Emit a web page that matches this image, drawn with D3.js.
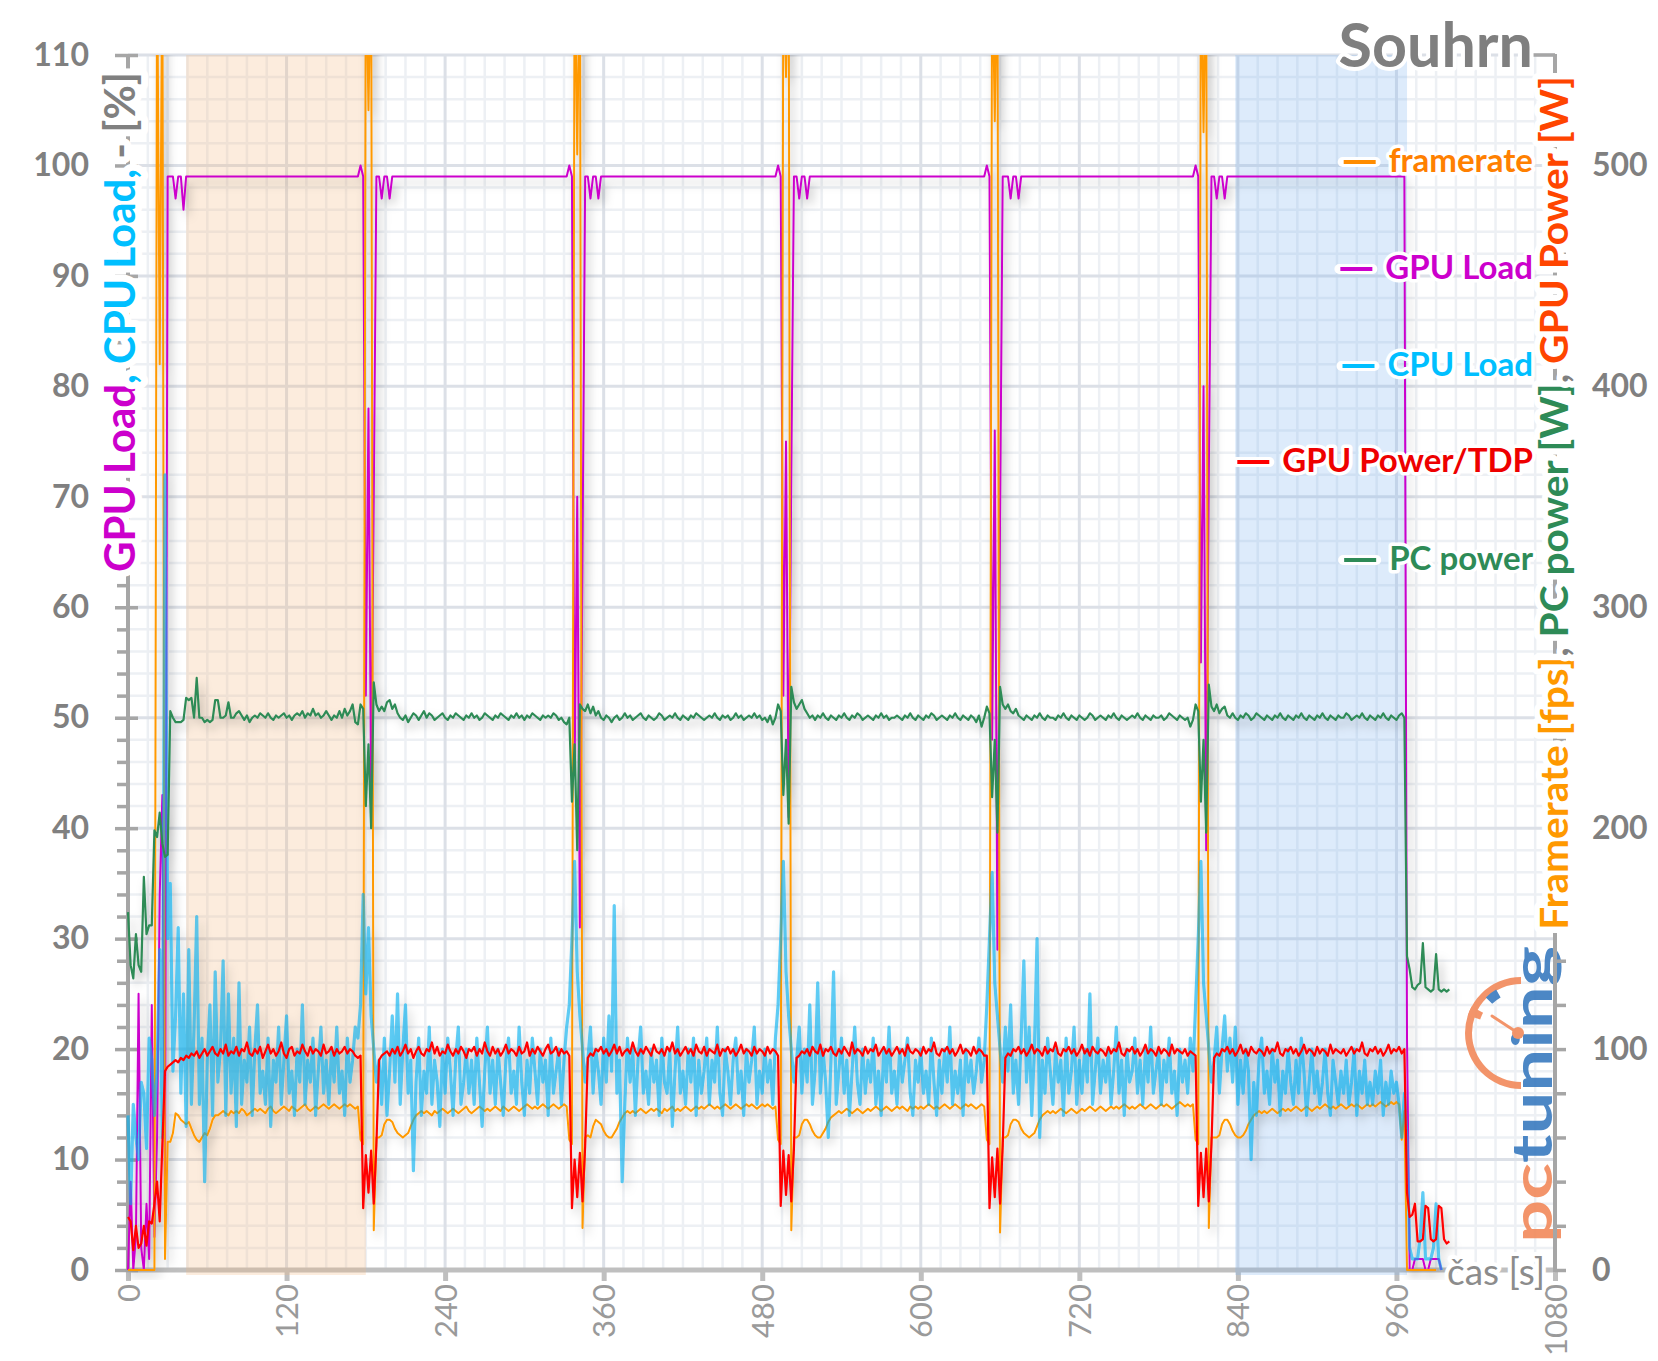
<!DOCTYPE html>
<html><head><meta charset="utf-8">
<script src="https://cdn.jsdelivr.net/npm/d3@7"></script>
<style>
html,body{margin:0;padding:0;background:#fff;}
svg{display:block;font-family:Lato,"Open Sans",sans-serif;}
</style></head>
<body>
<svg id="chart" width="1658" height="1361"></svg>
<script>
// ---------------- DATA (one sample every 2 s, rows of 10 = 20 s) ----------------
const sampleStep = 2;

const framerate = [ // fps
0,0,0,0,0,0,0,0,0,0,
0,600,410,600,5,58,58,62,71,70,
68,67,66,67,64,61,59,58,60,62,
61,64,68,70,70,71,72,71,70,72,
71,72,71,73,72,70,71,72,73,72,
73,72,71,73,74,72,71,72,73,74,
73,72,74,73,72,73,74,75,73,72,
73,74,73,74,75,74,73,74,75,74,
73,74,75,74,75,74,73,74,59,57,
600,525,600,18,60,60,61,66,68,68,
67,64,62,61,60,61,62,65,68,70,
71,72,71,72,71,70,72,71,72,73,
72,71,72,73,72,71,72,73,74,72,
71,72,73,74,73,72,73,72,73,74,
73,72,74,73,72,73,74,73,72,73,
74,75,74,73,74,73,74,75,74,73,
74,75,74,73,74,75,74,59,57,600,
505,600,19,60,61,60,65,68,67,66,
63,61,60,60,62,64,67,69,71,72,
71,72,71,72,73,72,71,72,73,72,
73,72,71,73,72,73,74,72,73,72,
73,74,73,72,73,74,73,74,73,74,
75,74,73,74,73,74,75,74,73,74,
75,74,73,74,75,74,75,74,73,74,
75,74,75,74,73,74,59,57,600,540,
600,18,60,60,61,66,68,68,66,63,
61,60,60,62,64,67,69,70,71,72,
71,72,73,72,71,72,73,72,71,72,
73,72,73,74,73,72,73,74,73,72,
73,74,73,74,73,72,74,73,74,73,
74,73,74,75,74,73,74,73,74,75,
74,73,74,75,74,73,74,75,74,75,
74,73,74,75,74,59,57,600,520,600,
17,60,60,61,66,68,68,67,64,62,
61,60,61,62,65,68,70,71,72,71,
72,71,72,73,72,71,72,73,72,71,
72,73,72,73,74,73,72,73,74,73,
72,73,74,73,74,73,74,75,74,73,
74,73,74,75,74,73,74,75,74,73,
74,75,74,75,74,73,74,75,76,75,
74,75,74,75,59,57,600,515,600,19,
60,60,60,61,66,68,68,66,63,61,
60,60,61,63,66,68,70,71,72,71,
72,71,72,73,72,71,72,73,72,73,
72,73,74,73,72,73,74,73,72,73,
74,73,74,75,74,73,74,73,74,75,
74,73,74,75,74,75,74,73,74,75,
74,75,74,75,76,75,74,75,76,75,
76,75,59,72,0,0,0,0,0,0,
0,0,0,0,0,0];

const gpuLoad = [ // %
0,8,0,3,25,2,0,6,1,24,
3,12,34,43,6,99,99,99,97,99,
99,96,99,99,99,99,99,99,99,99,
99,99,99,99,99,99,99,99,99,99,
99,99,99,99,99,99,99,99,99,99,
99,99,99,99,99,99,99,99,99,99,
99,99,99,99,99,99,99,99,99,99,
99,99,99,99,99,99,99,99,99,99,
99,99,99,99,99,99,99,99,100,99,
52,78,43,70,99,99,97,99,99,97,
99,99,99,99,99,99,99,99,99,99,
99,99,99,99,99,99,99,99,99,99,
99,99,99,99,99,99,99,99,99,99,
99,99,99,99,99,99,99,99,99,99,
99,99,99,99,99,99,99,99,99,99,
99,99,99,99,99,99,99,99,99,99,
99,99,99,99,99,99,99,100,99,45,
70,31,65,99,99,97,99,99,97,99,
99,99,99,99,99,99,99,99,99,99,
99,99,99,99,99,99,99,99,99,99,
99,99,99,99,99,99,99,99,99,99,
99,99,99,99,99,99,99,99,99,99,
99,99,99,99,99,99,99,99,99,99,
99,99,99,99,99,99,99,99,99,99,
99,99,99,99,99,99,100,99,52,75,
41,72,99,99,97,99,99,97,99,99,
99,99,99,99,99,99,99,99,99,99,
99,99,99,99,99,99,99,99,99,99,
99,99,99,99,99,99,99,99,99,99,
99,99,99,99,99,99,99,99,99,99,
99,99,99,99,99,99,99,99,99,99,
99,99,99,99,99,99,99,99,99,99,
99,99,99,99,99,100,99,48,76,29,
68,99,99,99,97,99,99,97,99,99,
99,99,99,99,99,99,99,99,99,99,
99,99,99,99,99,99,99,99,99,99,
99,99,99,99,99,99,99,99,99,99,
99,99,99,99,99,99,99,99,99,99,
99,99,99,99,99,99,99,99,99,99,
99,99,99,99,99,99,99,99,99,99,
99,99,99,99,100,99,55,80,38,72,
99,99,97,99,99,97,99,99,99,99,
99,99,99,99,99,99,99,99,99,99,
99,99,99,99,99,99,99,99,99,99,
99,99,99,99,99,99,99,99,99,99,
99,99,99,99,99,99,99,99,99,99,
99,99,99,99,99,99,99,99,99,99,
99,99,99,99,99,99,99,99,99,99,
99,99,99,99,21,0,0,1,1,1,
1,0,0,1,1,1,1,0];

const cpuLoad = [ // %
14,6,15,12,10,17,16,11,21,19,
14,18,29,12,72,30,35,18,23,31,
16,25,13,29,15,22,32,15,21,8,
19,24,14,27,17,20,28,14,25,16,
21,13,26,15,19,17,22,14,20,24,
16,18,15,21,13,19,17,22,15,19,
23,16,18,14,20,17,24,15,19,17,
21,14,18,22,16,19,15,20,17,22,
16,18,14,21,17,19,22,21,24,34,
25,31,23,20,17,19,15,21,14,18,
23,17,25,15,20,24,16,19,9,17,
21,14,18,16,22,15,19,17,13,20,
16,21,18,14,19,22,15,17,20,16,
19,15,21,17,13,18,22,16,19,15,
20,17,14,19,21,16,18,15,22,17,
14,19,16,21,18,15,20,17,19,14,
21,16,18,20,15,19,22,24,30,37,
27,23,20,17,19,22,16,20,18,15,
21,17,23,18,33,16,19,8,15,21,
17,20,14,19,22,16,18,15,20,17,
19,14,21,17,16,20,13,18,22,16,
18,15,20,17,21,14,19,16,18,21,
15,19,17,22,16,14,20,18,15,19,
21,16,18,14,20,17,19,22,15,18,
16,20,17,19,15,21,24,30,37,27,
23,20,17,19,22,16,20,17,24,15,
18,26,16,20,17,12,19,27,15,18,
21,16,19,14,18,22,17,15,20,16,
19,17,21,15,18,14,20,17,22,16,
18,15,20,17,19,21,16,14,19,17,
20,16,18,15,21,17,14,19,16,20,
17,22,15,18,16,19,14,20,17,19,
16,18,21,17,19,24,30,36,26,23,
20,17,22,18,24,16,19,15,21,28,
17,22,14,20,30,12,19,16,21,18,
15,20,17,19,14,21,16,18,22,15,
19,16,20,17,25,15,18,21,16,19,
17,20,15,18,22,16,19,14,20,17,
18,21,16,19,15,20,17,22,16,18,
20,15,19,17,21,16,18,14,20,17,
19,16,21,18,24,30,37,26,23,20,
17,19,22,16,20,23,18,21,17,22,
15,19,16,20,18,10,17,14,19,21,
16,18,15,20,17,19,14,18,16,20,
17,15,19,16,21,18,14,17,20,16,
18,15,17,20,16,14,19,17,15,18,
16,19,15,17,20,14,18,16,19,15,
17,15,18,16,19,14,17,15,18,16,
17,15,12,16,12,2,1,1,1,3,
7,1,1,1,2,6,1,0];

const gpuPower = [ // W
24,22,9,20,10,12,20,11,22,21,
30,40,22,57,90,92,93,94,95,94,
96,95,97,96,98,97,99,96,98,100,
97,99,101,98,97,100,98,102,97,99,
98,101,97,100,99,103,98,97,100,98,
101,96,99,102,98,100,97,99,103,98,
96,100,101,97,99,98,102,99,97,101,
98,100,99,97,102,98,99,101,97,100,
98,99,101,98,100,99,97,96,97,28,
52,35,54,30,57,95,97,98,99,97,
100,98,101,97,99,102,98,100,96,99,
101,98,97,100,99,103,98,101,97,99,
98,102,99,97,100,98,101,99,96,100,
99,101,97,100,98,103,99,97,101,98,
100,97,99,102,98,100,99,97,101,98,
99,103,97,100,98,101,99,97,100,102,
98,99,101,97,100,98,99,97,28,50,
33,53,31,56,96,98,97,100,99,101,
98,100,97,99,102,98,101,97,99,100,
98,103,99,97,100,98,101,99,97,102,
99,98,100,97,101,99,103,98,100,97,
99,101,98,100,97,102,99,98,101,97,
100,99,98,102,97,100,99,101,98,100,
97,99,102,98,100,99,97,101,98,100,
99,97,101,98,100,99,97,29,54,34,
52,31,55,96,97,99,98,100,97,101,
99,98,102,97,100,99,101,98,97,100,
98,101,99,97,103,98,100,99,97,101,
98,100,99,102,97,99,101,98,100,97,
99,101,98,100,97,102,99,98,100,99,
97,101,98,100,99,103,98,97,100,99,
101,98,100,97,99,102,98,100,99,97,
101,98,100,99,97,97,28,51,33,55,
30,56,96,98,97,100,99,101,98,100,
97,99,102,98,100,99,97,101,98,100,
99,103,98,97,100,99,101,98,100,97,
99,102,98,100,97,101,99,98,100,99,
97,101,98,100,99,103,98,97,100,99,
101,98,100,97,99,102,98,100,99,97,
101,98,100,99,97,102,98,100,99,98,
100,97,99,98,97,29,53,33,55,31,
57,96,98,97,100,99,101,98,100,97,
99,102,98,100,97,101,99,98,100,99,
97,101,98,100,99,103,98,97,100,99,
101,98,100,97,99,102,98,100,99,97,
101,98,100,99,97,102,98,100,99,98,
100,97,99,101,98,100,99,103,98,97,
100,99,101,98,100,97,99,102,98,100,
99,101,98,100,35,24,25,30,13,13,
14,29,28,14,13,14,29,28,14,12,
13];

const pcPower = [ // W
162,138,132,152,138,135,178,152,156,156,
199,196,207,193,187,188,253,250,248,248,
248,249,259,258,259,250,268,250,250,248,
249,248,249,258,258,250,250,251,257,250,
250,252,253,251,249,251,248,250,251,250,
252,251,250,252,250,249,251,250,251,252,
250,251,249,251,252,251,253,250,252,251,
254,251,252,250,251,253,251,249,251,250,
253,250,254,251,253,256,248,247,256,254,
210,238,200,266,256,253,255,253,257,258,
254,256,252,250,249,251,248,250,252,251,
249,251,253,250,252,251,249,250,251,252,
250,249,251,250,252,251,250,249,251,250,
252,250,251,249,250,252,251,250,249,251,
250,252,251,250,249,251,250,252,250,251,
249,251,250,252,251,250,249,251,250,251,
250,252,251,249,250,248,247,250,212,238,
190,256,254,253,256,252,255,251,253,250,
249,251,250,248,250,251,249,250,252,250,
251,249,250,251,252,250,249,251,250,249,
250,252,251,249,250,251,250,252,250,249,
251,250,249,251,250,252,251,250,249,250,
251,250,252,250,249,251,250,251,249,250,
252,250,251,249,250,251,250,252,250,251,
249,250,248,251,247,250,256,253,215,240,
202,264,257,254,256,258,254,252,250,251,
249,251,250,252,250,249,251,250,249,251,
250,252,250,249,251,250,252,251,249,250,
251,250,249,251,250,252,250,251,249,250,
250,251,250,249,251,250,252,250,249,251,
250,249,251,250,252,251,249,250,251,250,
249,251,250,252,250,249,251,250,249,251,
250,248,251,246,250,255,252,214,240,198,
264,256,254,256,253,252,254,251,250,249,
251,250,249,251,250,252,250,249,251,250,
250,249,251,250,252,250,249,251,250,249,
251,250,249,250,252,251,249,250,251,250,
249,251,250,252,250,249,251,250,249,250,
251,250,252,250,249,251,250,249,251,250,
250,251,249,250,252,251,250,249,251,250,
249,250,246,249,256,253,212,240,198,265,
255,253,256,252,254,255,251,250,252,250,
249,251,250,252,251,249,250,252,251,250,
249,251,250,249,251,250,252,250,249,251,
250,249,251,250,252,250,249,251,250,249,
251,250,252,250,249,251,250,249,251,250,
250,252,251,249,250,251,250,252,250,249,
251,250,249,251,250,252,250,249,251,250,
249,251,252,250,142,136,128,127,129,130,
148,128,127,126,127,143,127,126,127,126,
127];

const xTicks = [0,120,240,360,480,600,720,840,960,1080];
const yLeftTicks = [0,10,20,30,40,50,60,70,80,90,100,110];
const yRightTicks = [0,100,200,300,400,500];
const bands = [[44,180],[838,968]];
const legendNames = ["framerate","GPU Load","CPU Load","GPU Power/TDP","PC power"];

// ---------------- LAYOUT ----------------
const W = 1658, H = 1361;
const P = {left:128, right:1555, top:55, bottom:1270};
const svg = d3.select('#chart');
const x = d3.scaleLinear().domain([0,1080]).range([P.left,P.right]);
const yL = d3.scaleLinear().domain([0,110]).range([P.bottom,P.top]);
const yR = d3.scaleLinear().domain([0,550]).range([P.bottom,P.top]);
const FONT = 'Lato, "Open Sans", sans-serif';
const GRAY = '#808080';

const defs = svg.append('defs');
defs.append('clipPath').attr('id','plotclip').append('rect')
  .attr('x',P.left-3).attr('y',P.top).attr('width',P.right-P.left+6).attr('height',P.bottom-P.top+10);
const sh = defs.append('filter').attr('id','shadow').attr('filterUnits','userSpaceOnUse')
  .attr('x',0).attr('y',0).attr('width',W).attr('height',H);
sh.append('feDropShadow').attr('dx',4).attr('dy',6).attr('stdDeviation',5)
  .attr('flood-color','#000').attr('flood-opacity',0.26);

// ---------------- GRID ----------------
const grid = svg.append('g');
const minorY = d3.range(0,111,2).filter(v=>v%10!==0);
const minorX = d3.range(0,1081,15).filter(v=>v%120!==0);
grid.selectAll('.hmin').data(minorY).join('line')
  .attr('x1',P.left).attr('x2',P.right).attr('y1',d=>yL(d)).attr('y2',d=>yL(d))
  .attr('stroke','#EDF0F4').attr('stroke-width',2.5);
grid.selectAll('.vmin').data(minorX).join('line')
  .attr('y1',P.top).attr('y2',P.bottom).attr('x1',d=>x(d)).attr('x2',d=>x(d))
  .attr('stroke','#EDF0F4').attr('stroke-width',2.5);
grid.selectAll('.hmaj').data(yLeftTicks).join('line')
  .attr('x1',P.left).attr('x2',P.right).attr('y1',d=>yL(d)).attr('y2',d=>yL(d))
  .attr('stroke','#DCE0E7').attr('stroke-width',3);
grid.selectAll('.vmaj').data(xTicks).join('line')
  .attr('y1',P.top).attr('y2',P.bottom).attr('x1',d=>x(d)).attr('x2',d=>x(d))
  .attr('stroke','#DCE0E7').attr('stroke-width',3);

// ---------------- LOGO (behind axis) ----------------
const logo = svg.append('g').attr('opacity',0.92);
const lt = logo.append('text').attr('font-family',FONT).attr('font-weight',700).attr('font-size',56);
lt.append('tspan').attr('fill','#F28C5E').text('pc');
lt.append('tspan').attr('fill','#3D7DC1').text('tuning');
{
  const w = lt.node().getBBox().width;
  lt.attr('transform',`translate(1552,1243) rotate(-90) scale(${297/w},1)`);
}
const gauge = logo.append('g').attr('transform','translate(1521,1033)');
const arc = d3.arc();
gauge.append('path').attr('d',arc({innerRadius:49,outerRadius:56,startAngle:Math.PI,endAngle:2*Math.PI})).attr('fill','#F28C5E');
gauge.append('path').attr('d',arc({innerRadius:43,outerRadius:56,startAngle:2*Math.PI-1.25,endAngle:2*Math.PI-1.08})).attr('fill','#F28C5E');
gauge.append('path').attr('d',arc({innerRadius:41,outerRadius:50,startAngle:2*Math.PI-0.78,endAngle:2*Math.PI-0.52})).attr('fill','#3D7DC1');
gauge.append('line').attr('x1',-3).attr('y1',0).attr('x2',-29).attr('y2',-17)
  .attr('stroke','#F28C5E').attr('stroke-width',3).attr('stroke-linecap','round');
gauge.append('circle').attr('cx',-3).attr('r',6).attr('fill','#F28C5E');

// ---------------- AXES ----------------
const gx = svg.append('g').attr('transform',`translate(0,${P.bottom})`)
  .call(d3.axisBottom(x).tickValues(xTicks).tickSize(11).tickSizeOuter(0).tickPadding(0).tickFormat(d3.format('d')));
gx.attr('font-family',FONT).attr('font-size',31);
gx.select('.domain').attr('stroke','#BFBFBF').attr('stroke-width',5).attr('d',`M${P.left-2},0H${P.right+2}`);
gx.selectAll('.tick line').attr('stroke','#BFBFBF').attr('stroke-width',5);
gx.selectAll('.tick text').attr('x',0).attr('y',0).attr('dy',0)
  .attr('transform','translate(11,14) rotate(-90)').attr('text-anchor','end').attr('fill','#9A9A9A');

const gly = svg.append('g').attr('transform',`translate(${P.left},0)`)
  .call(d3.axisLeft(yL).tickValues(minorY).tickSize(11).tickFormat(''));
gly.select('.domain').remove();
gly.selectAll('.tick line').attr('stroke','#A6A6A6').attr('stroke-width',3.5);

const gl = svg.append('g').attr('transform',`translate(${P.left},0)`)
  .call(d3.axisLeft(yL).tickValues(yLeftTicks).tickSizeInner(13).tickSizeOuter(0).tickPadding(26));
gl.attr('font-family',FONT).attr('font-size',32);
gl.select('.domain').attr('stroke','#A6A6A6').attr('stroke-width',4).attr('d',`M0,${P.top}V${P.bottom+2}`);
gl.selectAll('.tick line').attr('x1',10).attr('stroke','#A6A6A6').attr('stroke-width',3.5);
gl.selectAll('.tick text').attr('fill',GRAY).attr('font-weight',700);

const gr = svg.append('g').attr('transform',`translate(${P.right},0)`)
  .call(d3.axisRight(yR).tickValues(d3.range(0,541,20)).tickSizeInner(11).tickSizeOuter(0).tickPadding(26)
    .tickFormat(d=>yRightTicks.includes(d)?d:''));
gr.attr('font-family',FONT).attr('font-size',32);
gr.select('.domain').attr('stroke','#A6A6A6').attr('stroke-width',4).attr('d',`M0,${P.top-1}V${P.bottom+2}`);
gr.selectAll('.tick line').attr('stroke','#A6A6A6').attr('stroke-width',3.5);
gr.selectAll('.tick text').attr('fill',GRAY).attr('font-weight',700);
svg.append('line').attr('x1',P.right-22).attr('x2',P.right).attr('y1',P.top).attr('y2',P.top)
  .attr('stroke','#A6A6A6').attr('stroke-width',3.5);

// ---------------- BANDS ----------------
const bandColors = ['rgba(245,185,130,0.27)','rgba(120,175,240,0.25)'];
svg.append('g').selectAll('rect').data(bands).join('rect')
  .attr('x',d=>x(d[0])).attr('width',d=>x(d[1])-x(d[0]))
  .attr('y',P.top).attr('height',P.bottom-P.top+5)
  .attr('fill',(d,i)=>bandColors[i]);

// ---------------- SERIES ----------------
const series = [
  {values:gpuLoad,  scale:yL, color:'#CC00CC', width:2},
  {values:framerate,scale:yR, color:'#FF9900', width:2},
  {values:cpuLoad,  scale:yL, color:'#00AEEF', width:3.2, opacity:0.62},
  {values:gpuPower, scale:yR, color:'#FF0000', width:2.2},
  {values:pcPower,  scale:yR, color:'#2E8B57', width:2.2}
];
const lines = svg.append('g').attr('clip-path','url(#plotclip)').append('g').attr('filter','url(#shadow)');
series.forEach(s=>{
  const gen = d3.line().x((d,i)=>x(i*sampleStep)).y(d=>s.scale(d));
  lines.append('path').attr('d',gen(s.values)).attr('fill','none')
    .attr('stroke',s.color).attr('stroke-width',s.width).attr('stroke-opacity',s.opacity||1)
    .attr('stroke-linejoin','round');
});

// ---------------- TEXTS ----------------
function halo(sel,w){ return sel.attr('stroke','#fff').attr('stroke-width',w).attr('stroke-linejoin','round').attr('paint-order','stroke'); }

// left axis title
const ltitle = svg.append('text').attr('font-family',FONT).attr('font-weight',700).attr('font-size',42).attr('text-anchor','end');
ltitle.append('tspan').attr('fill','#CC00CC').text('GPU Load');
ltitle.append('tspan').attr('fill','#00BFFF').text(', CPU Load, ');
ltitle.append('tspan').attr('fill',GRAY).text('- [%]');
halo(ltitle,14);
{ const w = ltitle.node().getBBox().width; ltitle.attr('transform',`translate(135,72) rotate(-90) scale(${500/w},1)`); }

// right axis title
const rtitle = svg.append('text').attr('font-family',FONT).attr('font-weight',700).attr('font-size',38).attr('text-anchor','end');
rtitle.append('tspan').attr('fill','#FF9900').text('Framerate [fps]');
rtitle.append('tspan').attr('fill',GRAY).text(', ');
rtitle.append('tspan').attr('fill','#2E8B57').text('PC power [W]');
rtitle.append('tspan').attr('fill',GRAY).text(', ');
rtitle.append('tspan').attr('fill','#FF4500').text('GPU Power [W]');
halo(rtitle,12);
{ const w = rtitle.node().getBBox().width; rtitle.attr('transform',`translate(1568,76) rotate(-90) scale(${854/w},1)`); }

// chart title
halo(svg.append('text').attr('x',1533).attr('y',67).attr('text-anchor','end')
  .attr('font-family',FONT).attr('font-weight',700).attr('font-size',61).attr('fill','#7F7F7F').text('Souhrn'),8);

// x axis name
halo(svg.append('text').attr('x',1545).attr('y',1285).attr('text-anchor','end')
  .attr('font-family',FONT).attr('font-size',37).attr('fill','#8C8C8C').text('čas [s]'),8);

// legend
const legendText = ['#FF8000','#CC00CC','#00BFFF','#EE0000','#2E8B57'];
const legendLine = ['#FF8C00','#CC00CC','#00BFFF','#FF0000','#2E8B57'];
const legendY = [172,279,376,472,570];
const lg = svg.append('g');
legendNames.forEach((name,i)=>{
  const t = lg.append('text').attr('x',1533).attr('y',legendY[i]).attr('text-anchor','end')
    .attr('font-family',FONT).attr('font-weight',700).attr('font-size',33).attr('fill',legendText[i]).text(name);
  halo(t,7);
  const w = t.node().getComputedTextLength();
  const x0 = 1533 - w;
  lg.insert('line','text').attr('x1',x0-46).attr('x2',x0-13).attr('y1',legendY[i]-10).attr('y2',legendY[i]-10)
    .attr('stroke','#fff').attr('stroke-width',10).attr('stroke-linecap','round');
  lg.append('line').attr('x1',x0-45).attr('x2',x0-13).attr('y1',legendY[i]-10).attr('y2',legendY[i]-10)
    .attr('stroke',legendLine[i]).attr('stroke-width',4);
});
</script>
</body></html>
